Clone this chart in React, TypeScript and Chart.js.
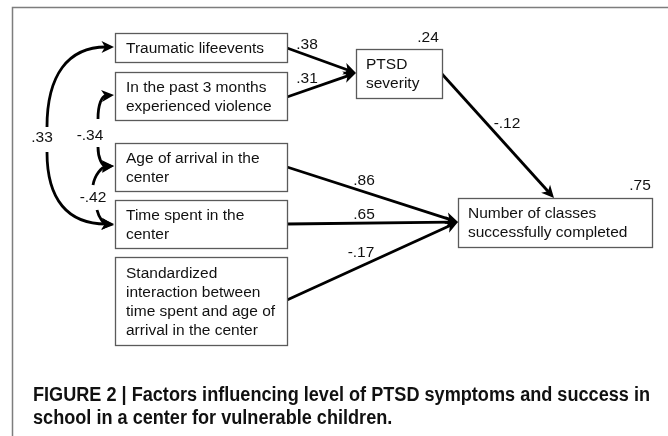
import { useEffect, useRef } from "react";
import { Chart, registerables } from "chart.js";

Chart.register(...registerables);

// ---------- data ----------
const nodeNames: string[][] = [
  ["Traumatic lifeevents"],
  ["In the past 3 months", "experienced violence"],
  ["Age of arrival in the", "center"],
  ["Time spent in the", "center"],
  ["Standardized", "interaction between", "time spent and age of", "arrival in the center"],
  ["PTSD", "severity"],
  ["Number of classes", "successfully completed"],
];
const r2Values = ["", "", "", "", "", ".24", ".75"];
const pathFrom = [0, 1, 5, 2, 3, 4];
const pathTo = [5, 5, 6, 6, 6, 6];
const pathCoefficients = [".38", ".31", "-.12", ".86", ".65", "-.17"];
const corrPairs = [[0, 3], [1, 2], [2, 3]];
const corrCoefficients = [".33", "-.34", "-.42"];
const captionLines = [
  "FIGURE 2 | Factors influencing level of PTSD symptoms and success in",
  "school in a center for vulnerable children.",
];

// ---------- layout (diagram coordinates) ----------
const W = 668;
const H = 436;
const boxRects = [
  [115, 33, 287, 62],
  [115, 72, 287, 120],
  [115, 143, 287, 191],
  [115, 200, 287, 248],
  [115, 257, 287, 345],
  [356, 49, 442, 98],
  [458, 198, 652, 247],
];
const boxTextX = [126, 126, 126, 126, 126, 366, 468];
const r2Pos = [null, null, null, null, null, [428, 38], [640, 186]];
const pathStart = [[287, 48], [287, 97], [442, 74], [287, 167], [287, 224], [287, 300]];
const pathEnd = [[356, 73], [356, 73], [554, 198], [458, 222], [458, 222], [458, 222]];
const pathLabelPos = [[307, 45], [307, 79], [507, 124], [364, 181], [364, 215], [361, 253]];
// each correlation: two curved segments [start, cp1, cp2, tip]
const corrCurves = [
  [
    [[47, 127], [47, 75], [68, 47], [114, 47]],
    [[47, 152], [47, 200], [68, 224], [114, 224]],
  ],
  [
    [[98, 119], [98, 104], [102, 96], [114, 95]],
    [[98, 147], [98, 158], [102, 166], [114, 166]],
  ],
  [
    [[93, 185], [95, 174], [102, 167], [114, 166]],
    [[97, 210], [99, 218], [104, 224], [114, 225]],
  ],
];
const corrLabelPos = [[42, 138], [90, 136], [93, 198]];

const FONT = '"Liberation Sans", Arial, sans-serif';

function shorten(s: number[], e: number[], d: number) {
  const dx = e[0] - s[0];
  const dy = e[1] - s[1];
  const L = Math.hypot(dx, dy);
  return [e[0] - (dx / L) * d, e[1] - (dy / L) * d];
}

export default function App() {
  const ref = useRef<HTMLCanvasElement>(null);

  useEffect(() => {
    document.body.style.margin = "0";
    const canvas = ref.current!;

    const datasets = pathFrom.map((f, i) => {
      const s = pathStart[i];
      const e = shorten(s, pathEnd[i], 8);
      return {
        label: `${nodeNames[f][0]} -> ${nodeNames[pathTo[i]][0]} (${pathCoefficients[i]})`,
        data: [
          { x: s[0], y: s[1] },
          { x: e[0], y: e[1] },
        ],
        showLine: true,
        borderColor: "#000",
        borderWidth: 2.8,
        pointRadius: 0,
        borderCapStyle: "butt" as const,
      };
    });

    const plugin = {
      id: "pathDiagram",
      afterDatasetsDraw(chart: any) {
        const ctx: CanvasRenderingContext2D = chart.ctx;
        const xs = chart.scales.x;
        const ys = chart.scales.y;
        const px = (v: number) => xs.getPixelForValue(v);
        const py = (v: number) => ys.getPixelForValue(v);

        const arrow = (tip: number[], from: number[]) => {
          const ang = Math.atan2(py(tip[1]) - py(from[1]), px(tip[0]) - px(from[0]));
          const tx = px(tip[0]);
          const ty = py(tip[1]);
          const len = 12.5;
          const hw = 6;
          ctx.save();
          ctx.translate(tx, ty);
          ctx.rotate(ang);
          ctx.beginPath();
          ctx.moveTo(0, 0);
          ctx.lineTo(-len, -hw);
          ctx.lineTo(-len * 0.72, 0);
          ctx.lineTo(-len, hw);
          ctx.closePath();
          ctx.fillStyle = "#000";
          ctx.fill();
          ctx.restore();
        };

        ctx.save();
        // frame
        ctx.strokeStyle = "#7d7d7d";
        ctx.lineWidth = 1.5;
        ctx.beginPath();
        ctx.moveTo(px(12.5), py(H));
        ctx.lineTo(px(12.5), py(7.5));
        ctx.lineTo(px(W), py(7.5));
        ctx.stroke();

        // boxes
        ctx.font = `15.5px ${FONT}`;
        ctx.textBaseline = "middle";
        ctx.textAlign = "left";
        boxRects.forEach((r, i) => {
          const x0 = px(r[0]);
          const y0 = py(r[1]);
          const x1 = px(r[2]);
          const y1 = py(r[3]);
          ctx.fillStyle = "#fff";
          ctx.fillRect(x0, y0, x1 - x0, y1 - y0);
          ctx.strokeStyle = "#5a5a5a";
          ctx.lineWidth = 1.3;
          ctx.strokeRect(x0 + 0.5, y0 + 0.5, x1 - x0, y1 - y0);
          const lines = nodeNames[i];
          const cy = (r[1] + r[3]) / 2 + 1;
          const lh = 19;
          ctx.fillStyle = "#111";
          lines.forEach((t, k) => {
            const y = cy + (k - (lines.length - 1) / 2) * lh;
            ctx.fillText(t, px(boxTextX[i]), py(y));
          });
          const rp = r2Pos[i];
          if (rp && r2Values[i]) {
            ctx.textAlign = "center";
            ctx.fillText(r2Values[i], px(rp[0]), py(rp[1]));
            ctx.textAlign = "left";
          }
        });

        // straight path arrowheads + labels
        pathFrom.forEach((_, i) => {
          arrow(pathEnd[i], pathStart[i]);
          ctx.fillStyle = "#111";
          ctx.textAlign = "center";
          ctx.fillText(pathCoefficients[i], px(pathLabelPos[i][0]), py(pathLabelPos[i][1]));
        });

        // correlation curves
        ctx.strokeStyle = "#000";
        ctx.lineWidth = 2.8;
        ctx.lineCap = "butt";
        corrPairs.forEach((_, i) => {
          corrCurves[i].forEach((c) => {
            const [s, c1, c2, t] = c;
            const e = shorten(c2, t, 8);
            ctx.beginPath();
            ctx.moveTo(px(s[0]), py(s[1]));
            ctx.bezierCurveTo(px(c1[0]), py(c1[1]), px(c2[0]), py(c2[1]), px(e[0]), py(e[1]));
            ctx.stroke();
            arrow(t, c2);
          });
          ctx.fillStyle = "#111";
          ctx.textAlign = "center";
          ctx.fillText(corrCoefficients[i], px(corrLabelPos[i][0]), py(corrLabelPos[i][1]));
        });

        // caption
        ctx.font = `bold 20px ${FONT}`;
        ctx.textBaseline = "alphabetic";
        ctx.textAlign = "left";
        ctx.fillStyle = "#111";
        const sx = 617 / ctx.measureText(captionLines[0]).width;
        const baselines = [401, 424];
        captionLines.forEach((t, k) => {
          ctx.save();
          ctx.translate(px(33), py(baselines[k]));
          ctx.scale(sx, 1);
          ctx.fillText(t, 0, 0);
          ctx.restore();
        });
        ctx.restore();
      },
    };

    const chart = new Chart(canvas, {
      type: "scatter",
      data: { datasets },
      options: {
        animation: false,
        responsive: false,
        events: [],
        layout: { padding: 0 },
        plugins: { legend: { display: false }, tooltip: { enabled: false } },
        scales: {
          x: { type: "linear", min: 0, max: W, display: false },
          y: { type: "linear", min: 0, max: H, reverse: true, display: false },
        },
      },
      plugins: [plugin],
    });
    return () => chart.destroy();
  }, []);

  return <canvas ref={ref} width={W} height={H} style={{ display: "block" }} />;
}
